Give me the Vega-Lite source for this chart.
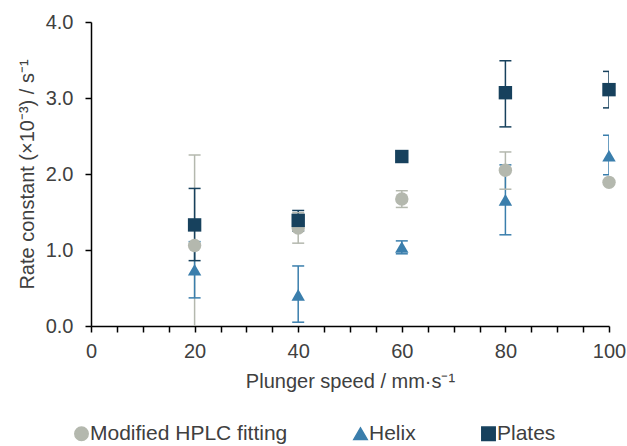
{
  "$schema": "https://vega.github.io/schema/vega-lite/v6.json",
  "width": 518,
  "height": 304,
  "autosize": {"type": "none"},
  "padding": {"left": 91, "top": 22, "right": 18, "bottom": 120},
  "background": "white",
  "config": {
    "view": {"stroke": null},
    "font": "Liberation Sans",
    "axis": {
      "labelFont": "Liberation Sans",
      "titleFont": "Liberation Sans",
      "labelFontSize": 20,
      "titleFontSize": 20,
      "titleFontWeight": "normal",
      "labelColor": "#404040",
      "titleColor": "#404040",
      "domainColor": "black",
      "tickColor": "black",
      "domainWidth": 1.5,
      "tickWidth": 1.5,
      "tickSize": 6,
      "grid": false
    },
    "legend": {
      "labelFont": "Liberation Sans",
      "labelFontSize": 21,
      "labelColor": "#404040",
      "labelLimit": 0
    }
  },
  "data": {
    "values": [
      {"speed": 20, "series": "Modified HPLC fitting", "k": 1.06, "lo": -0.13, "hi": 2.25},
      {"speed": 40, "series": "Modified HPLC fitting", "k": 1.29, "lo": 1.09, "hi": 1.49},
      {"speed": 60, "series": "Modified HPLC fitting", "k": 1.67, "lo": 1.56, "hi": 1.78},
      {"speed": 80, "series": "Modified HPLC fitting", "k": 2.05, "lo": 1.8, "hi": 2.29},
      {"speed": 100, "series": "Modified HPLC fitting", "k": 1.89, "lo": null, "hi": null},
      {"speed": 20, "series": "Helix", "k": 0.74, "lo": 0.37, "hi": 1.11},
      {"speed": 40, "series": "Helix", "k": 0.41, "lo": 0.05, "hi": 0.79},
      {"speed": 60, "series": "Helix", "k": 1.04, "lo": 0.95, "hi": 1.12},
      {"speed": 80, "series": "Helix", "k": 1.66, "lo": 1.2, "hi": 2.12},
      {"speed": 100, "series": "Helix", "k": 2.24, "lo": 1.99, "hi": 2.51},
      {"speed": 20, "series": "Plates", "k": 1.33, "lo": 0.86, "hi": 1.81},
      {"speed": 40, "series": "Plates", "k": 1.39, "lo": 1.25, "hi": 1.52},
      {"speed": 60, "series": "Plates", "k": 2.23, "lo": null, "hi": null},
      {"speed": 80, "series": "Plates", "k": 3.07, "lo": 2.62, "hi": 3.49},
      {"speed": 100, "series": "Plates", "k": 3.11, "lo": 2.87, "hi": 3.35}
    ]
  },
  "encoding": {
    "x": {
      "field": "speed",
      "type": "quantitative",
      "scale": {"domain": [0, 100], "nice": false, "zero": true},
      "axis": {
        "title": "Plunger speed / mm·s⁻¹",
        "values": [0,5,10,15,20,25,30,35,40,45,50,55,60,65,70,75,80,85,90,95,100],
        "labelExpr": "datum.value % 20 == 0 ? datum.label : ''",
        "labelOverlap": false,
        "labelFlush": false,
        "labelPadding": 9,
        "titlePadding": 10
      }
    },
    "color": {
      "field": "series",
      "type": "nominal",
      "scale": {
        "domain": ["Modified HPLC fitting", "Helix", "Plates"],
        "range": ["#b4b8ae", "#3a7eac", "#17415d"]
      },
      "legend": {
        "title": null,
        "orient": "none",
        "direction": "horizontal",
        "legendX": -20,
        "legendY": 401,
        "symbolSize": 180,
        "labelOffset": -2,
        "columnPadding": 62,
        "symbolOpacity": 1
      }
    }
  },
  "layer": [
    {
      "transform": [{"filter": "datum.lo != null"}],
      "mark": {"type": "rule", "strokeWidth": 1.5, "clip": true},
      "encoding": {
        "y": {"field": "lo", "type": "quantitative"},
        "y2": {"field": "hi"}
      }
    },
    {
      "transform": [{"filter": "datum.lo != null"}],
      "mark": {"type": "tick", "orient": "horizontal", "size": 12, "thickness": 1.5, "opacity": 1, "clip": true},
      "encoding": {
        "y": {"field": "lo", "type": "quantitative"}
      }
    },
    {
      "transform": [{"filter": "datum.hi != null"}],
      "mark": {"type": "tick", "orient": "horizontal", "size": 12, "thickness": 1.5, "opacity": 1, "clip": true},
      "encoding": {
        "y": {"field": "hi", "type": "quantitative"}
      }
    },
    {
      "mark": {"type": "point", "filled": true, "opacity": 1, "size": 180},
      "encoding": {
        "y": {
          "field": "k",
          "type": "quantitative",
          "scale": {"domain": [0, 4], "nice": false},
          "axis": {
            "title": "Rate constant (×10⁻³) / s⁻¹",
            "values": [0,0.5,1,1.5,2,2.5,3,3.5,4],
            "labelExpr": "datum.value % 1 == 0 ? format(datum.value, '.1f') : ''",
            "labelOverlap": false,
            "labelPadding": 12,
            "titlePadding": 8
          }
        },
        "shape": {
          "field": "series",
          "type": "nominal",
          "scale": {
            "domain": ["Modified HPLC fitting", "Helix", "Plates"],
            "range": ["circle", "triangle-up", "square"]
          },
          "legend": null
        }
      }
    }
  ]
}
